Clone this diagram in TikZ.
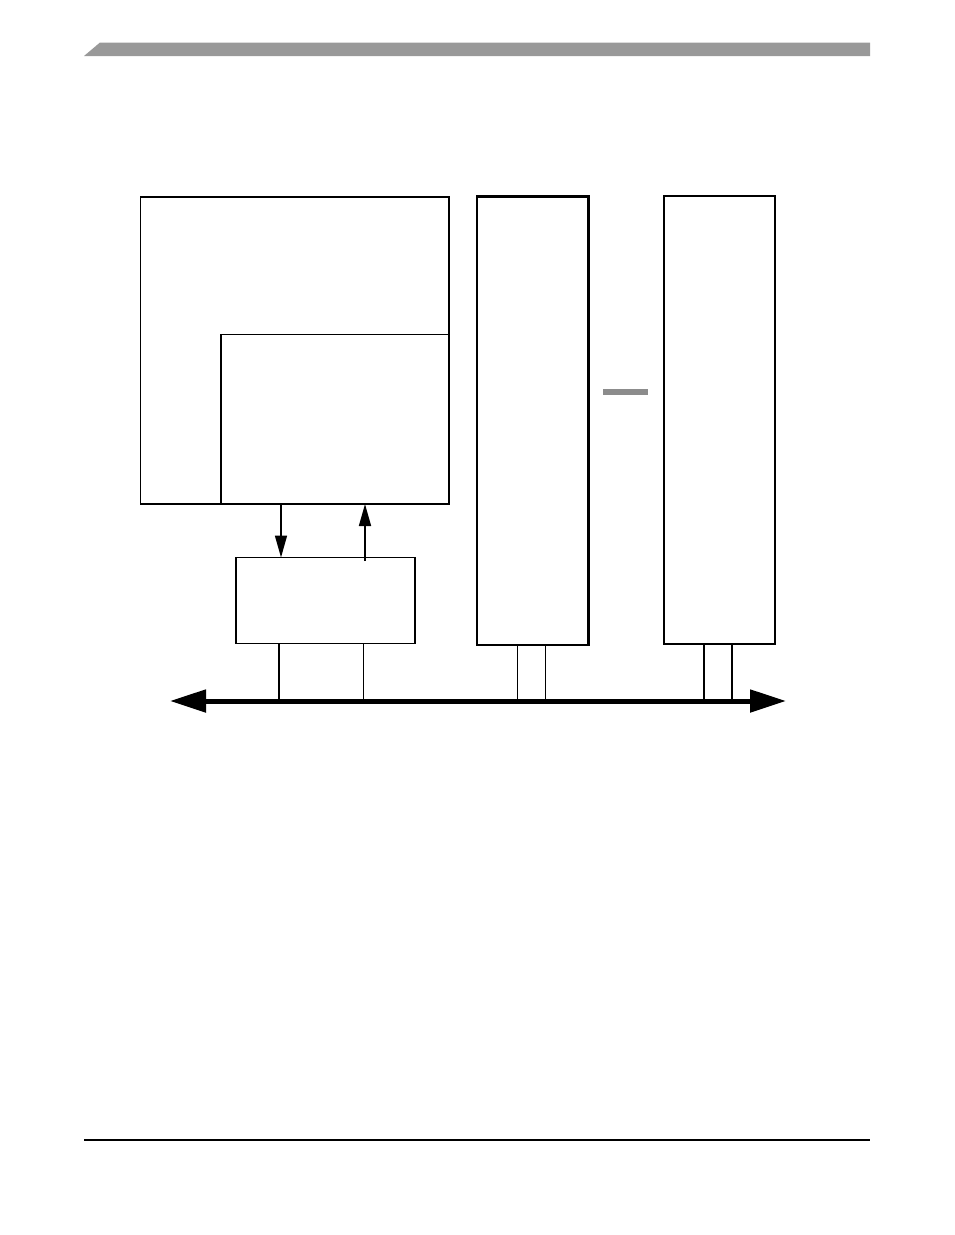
\documentclass[tikz,border=0pt]{standalone}
\usetikzlibrary{arrows.meta}
\definecolor{bargray}{HTML}{999999}
\definecolor{dashgray}{HTML}{8C8C8C}
\tikzset{
  blk/.style={draw, line width=1.6pt, inner sep=0pt, outer sep=0pt, anchor=north west},
  sig/.style={line width=1.6pt, -{Triangle[length=22pt,width=12pt]}},
  tap/.style={line width=1.4pt},
  taptk/.style={line width=2.4pt},
  bus/.style={line width=5pt, {Triangle[length=36pt,width=22pt]}-{Triangle[length=36pt,width=22pt]}}
}
\begin{document}
\begin{tikzpicture}[x=1pt,y=-1pt]
\useasboundingbox (0,0) rectangle (954,1235);
% header bar and footer rule
\fill[bargray] (84,56) -- (100,42.5) -- (870,42.5) -- (870,56) -- cycle;
\draw[line width=1.5pt] (84,1140) -- (870,1140);
% blocks
\node[blk, minimum width=308.5pt, minimum height=307pt] (outer) at (140.5,197) {};
\draw[line width=2.8pt] (outer.north west) -- (outer.north east);
\node[blk, minimum width=228pt, minimum height=169.5pt] (inner) at (221,334.5) {};
\draw[line width=2.8pt] (inner.north west) -- (inner.south west);
\node[blk, minimum width=179pt, minimum height=86pt] (sbox) at (236,557.5) {};
\node[blk, minimum width=111.5pt, minimum height=448.5pt, line width=2.2pt] (b2) at (477,196.5) {};
\node[blk, minimum width=111pt, minimum height=448pt, line width=2.4pt] (b3) at (664,196) {};
\fill[dashgray] (603,389) rectangle (648,395);
% bus
\coordinate (busL) at (170,701);
\coordinate (busR) at (786,701);
\draw[bus] (busL) -- (busR);
% arrows between inner and small box
\coordinate (d1) at (281,504);
\coordinate (d2) at (281,557.5);
\coordinate (u1) at (365,561);
\coordinate (u2) at (365,504);
\draw[sig] (d1) -- (d2);
\draw[sig] (u1) -- (u2);
% taps
\draw[taptk] (279,643.5) -- (279,699);
\draw[tap] (363.5,643.5) -- (363.5,699);
\draw[tap] (517.5,645) -- (517.5,699);
\draw[tap] (545.5,645) -- (545.5,699);
\draw[tap] (704,644) -- (704,699);
\draw[taptk] (732,644) -- (732,699);
\end{tikzpicture}
\end{document}
